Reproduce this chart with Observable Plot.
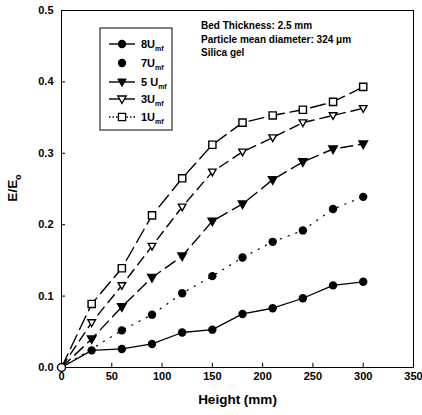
<!DOCTYPE html>
<html><head><meta charset="utf-8">
<script src="https://cdn.jsdelivr.net/npm/d3@7"></script>
<script src="https://cdn.jsdelivr.net/npm/@observablehq/plot@0.6"></script>
<style>
body{margin:0;background:#fff}
#chart svg{font-family:"Liberation Sans",Arial,sans-serif;font-weight:bold;background:#fff}
</style>
</head><body><div id="chart"></div>
<script>
// Data
const heights = [0, 30, 60, 90, 120, 150, 180, 210, 240, 270, 300];
const heights7 = [0, 60, 90, 120, 150, 180, 210, 240, 270, 300];
const u8 = [0, 0.024, 0.026, 0.033, 0.049, 0.053, 0.075, 0.083, 0.097, 0.115, 0.120];
const u7 = [0, 0.052, 0.074, 0.104, 0.128, 0.154, 0.176, 0.192, 0.222, 0.239];
const u5 = [0, 0.040, 0.085, 0.126, 0.156, 0.205, 0.229, 0.263, 0.288, 0.306, 0.313];
const u3 = [0, 0.063, 0.115, 0.170, 0.225, 0.274, 0.302, 0.322, 0.343, 0.353, 0.363];
const u1 = [0, 0.089, 0.139, 0.213, 0.265, 0.312, 0.343, 0.353, 0.361, 0.372, 0.393];
const xTicks = [0, 50, 100, 150, 200, 250, 300, 350];
const yTicks = [0, 0.1, 0.2, 0.3, 0.4, 0.5];
const seriesNames = ["8U", "7U", "5 U", "3U", "1U"];
const notes = ["Bed Thickness: 2.5 mm", "Particle mean diameter: 324 \u03bcm", "Silica gel"];
const xLabel = "Height (mm)";

const toRows = (xs, ys) => xs.map((x, i) => ({x, y: ys[i]}));
const d8 = toRows(heights, u8), d7 = toRows(heights7, u7), d5 = toRows(heights, u5),
      d3s = toRows(heights, u3), d1 = toRows(heights, u1);
const noOrigin = d => d.filter(p => p.x > 0);

// custom symbols
const triDown = {draw(ctx, size){ const r = Math.sqrt(size/Math.PI); ctx.moveTo(-r*1.05,-r*0.75); ctx.lineTo(r*1.05,-r*0.75); ctx.lineTo(0,r*1.1); ctx.closePath(); }};
const square = {draw(ctx, size){ const r = Math.sqrt(size/Math.PI)*0.9; ctx.rect(-r,-r,2*r,2*r); }};

const chart = Plot.plot({
  width: 422, height: 415,
  marginLeft: 61, marginRight: 9, marginTop: 10, marginBottom: 48,
  style: {fontFamily: '"Liberation Sans",Arial,sans-serif', fontWeight: "bold", fontSize: "11px", background: "#fff"},
  x: {domain: [0, 350]},
  y: {domain: [0, 0.5]},
  marks: [
    Plot.frame({stroke: "#000", strokeWidth: 1}),
    Plot.axisX({ticks: xTicks, tickSize: 0, tickPadding: 5, label: null, fontSize: 11, fontWeight: "bold"}),
    Plot.axisY({ticks: yTicks, tickSize: 0, tickPadding: 8, tickFormat: d3.format(".1f"), label: null, fontSize: 11, fontWeight: "bold"}),
    Plot.ruleX(xTicks, {x: d => d, y1: 0, y2: 0.006, stroke: "#000"}),
    Plot.ruleY(yTicks, {y: d => d, x1: 0, x2: 4, stroke: "#000"}),
    Plot.line(d8, {x: "x", y: "y", stroke: "#000", strokeWidth: 1.3}),
    Plot.line(d7, {x: "x", y: "y", stroke: "#000", strokeWidth: 1.2, strokeDasharray: "1.2,7"}),
    Plot.line(d5, {x: "x", y: "y", stroke: "#000", strokeWidth: 1.4, strokeDasharray: "12,6"}),
    Plot.line(d3s, {x: "x", y: "y", stroke: "#000", strokeWidth: 1.4, strokeDasharray: "10,6"}),
    Plot.line(d1, {x: "x", y: "y", stroke: "#000", strokeWidth: 1.4, strokeDasharray: "15,6"}),
    Plot.dot(noOrigin(d8), {x: "x", y: "y", r: 4.2, fill: "#000", stroke: "none"}),
    Plot.dot(noOrigin(d7), {x: "x", y: "y", r: 4.2, fill: "#000", stroke: "none"}),
    Plot.dot(noOrigin(d5), {x: "x", y: "y", r: 4, symbol: triDown, fill: "#000", stroke: "#000"}),
    Plot.dot(noOrigin(d3s), {x: "x", y: "y", r: 3.6, symbol: triDown, fill: "#fff", stroke: "#000", strokeWidth: 1.4}),
    Plot.dot(noOrigin(d1), {x: "x", y: "y", r: 4, symbol: square, fill: "#fff", stroke: "#000", strokeWidth: 1.4}),
    Plot.dot(d1.filter(p => p.x === 0), {x: "x", y: "y", r: 4, fill: "#fff", stroke: "#000", strokeWidth: 1.4}),
    Plot.text([xLabel], {frameAnchor: "bottom", dy: 36, fontSize: 13.5, fontWeight: "bold", fill: "#000"})
  ]
});
document.getElementById("chart").appendChild(chart);
const svg = d3.select(chart);

// Notes
notes.forEach((s, i) => {
  svg.append("text").attr("x", 201).attr("y", 29 + i * 13.7).attr("text-anchor", "start")
    .attr("font-size", 10).attr("font-weight", "bold").attr("fill", "#000").text(s);
});

// Y-axis label with subscript
const yl = svg.append("text").attr("transform", "translate(17,188) rotate(-90)").attr("text-anchor", "middle")
  .attr("font-size", 13.5).attr("font-weight", "bold").attr("fill", "#000");
yl.append("tspan").text("E/E");
yl.append("tspan").attr("font-size", 9).attr("dy", 4).text("o");

// Legend
const lg = svg.append("g").attr("text-anchor", "start");
lg.append("rect").attr("x", 100).attr("y", 28).attr("width", 72).attr("height", 102).attr("fill", "#fff").attr("stroke", "#000").attr("stroke-width", 1);
const legendStyles = [
  {dash: null, sym: "circle", fill: "#000", line: true},
  {dash: null, sym: "circle", fill: "#000", line: false},
  {dash: null, sym: "tri", fill: "#000", line: true},
  {dash: null, sym: "tri", fill: "#fff", line: true},
  {dash: "1.5,2", sym: "square", fill: "#fff", line: true}
];
const rowsY = [44, 63, 82, 99, 117];
seriesNames.forEach((name, i) => {
  const st = legendStyles[i], y = rowsY[i], cx = 122;
  if (st.line) lg.append("line").attr("x1", 109).attr("x2", 135).attr("y1", y).attr("y2", y).attr("stroke", "#000").attr("stroke-width", 1.4).attr("stroke-dasharray", st.dash);
  if (st.sym === "circle") lg.append("circle").attr("cx", cx).attr("cy", y).attr("r", 4.2).attr("fill", st.fill);
  else if (st.sym === "tri") lg.append("path").attr("d", `M${cx-4.2},${y-3} L${cx+4.2},${y-3} L${cx},${y+4.4} Z`).attr("fill", st.fill).attr("stroke", "#000").attr("stroke-width", st.fill === "#fff" ? 1.3 : 1);
  else lg.append("rect").attr("x", cx-3.6).attr("y", y-3.6).attr("width", 7.2).attr("height", 7.2).attr("fill", "#fff").attr("stroke", "#000").attr("stroke-width", 1.3);
  const t = lg.append("text").attr("x", 141).attr("y", y + 4).attr("text-anchor", "start").attr("font-size", 11).attr("font-weight", "bold").attr("fill", "#000");
  t.append("tspan").text(name);
  t.append("tspan").attr("font-size", 7).attr("dy", 3).text("mf");
});
</script>
</body></html>
